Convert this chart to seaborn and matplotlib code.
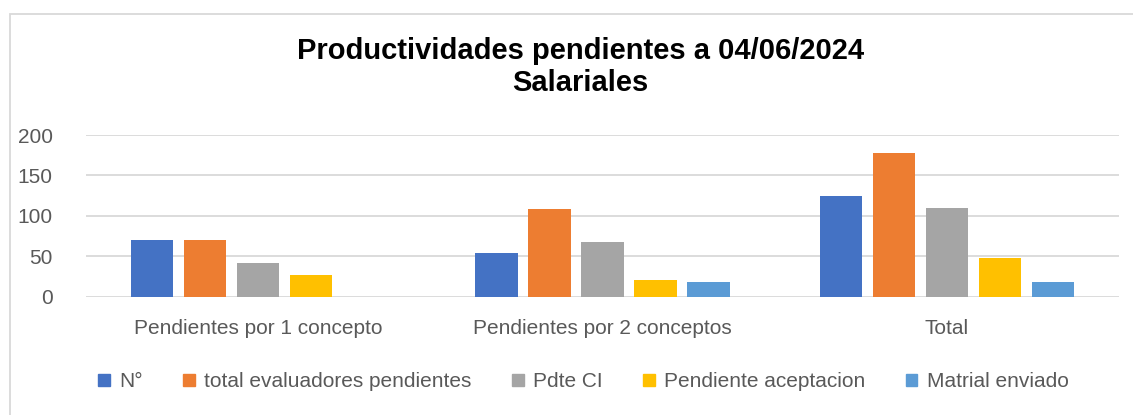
import matplotlib
matplotlib.use("Agg")
import matplotlib.pyplot as plt
import matplotlib.patches as mpatches
import pandas as pd
import seaborn as sns

# -----------------------------
# Data
# -----------------------------
categories = ["Pendientes por 1 concepto", "Pendientes por 2 conceptos", "Total"]
series = ["N°", "total evaluadores pendientes", "Pdte CI",
          "Pendiente aceptacion", "Matrial enviado"]
valores_n = [70, 54, 124]
valores_total_eval = [70, 108, 178]
valores_pdte_ci = [42, 68, 110]
valores_pend_acept = [27, 21, 48]
valores_matrial = [0, 18, 18]
colores = ["#4472C4", "#ED7D31", "#A5A5A5", "#FFC000", "#5B9BD5"]

rows = []
for s, vals in zip(series, [valores_n, valores_total_eval, valores_pdte_ci,
                            valores_pend_acept, valores_matrial]):
    for c, v in zip(categories, vals):
        rows.append({"categoria": c, "serie": s, "valor": v})
df = pd.DataFrame(rows)

# -----------------------------
# Plot
# -----------------------------
sns.set_style("white")
plt.rcParams["font.family"] = ["Liberation Sans", "DejaVu Sans"]

fig = plt.figure(figsize=(11.33, 4.15), dpi=100)
ax = fig.add_axes([86 / 1133, 118.3 / 415, 1033 / 1133, 161.7 / 415])

sns.barplot(data=df, x="categoria", y="valor", hue="serie",
            order=categories, hue_order=series, palette=colores,
            saturation=1, width=0.77, gap=0.2, linewidth=0, ax=ax,
            legend=False)

ax.set_ylim(0, 200)
ax.set_yticks([0, 50, 100, 150, 200])
ax.yaxis.grid(True, color="#D9D9D9", linewidth=1.3)
ax.set_axisbelow(True)
for side in ["top", "right", "left", "bottom"]:
    ax.spines[side].set_visible(False)
ax.set_xlabel("")
ax.set_ylabel("")
ax.tick_params(axis="both", length=0, labelsize=15, colors="#595959")
ax.tick_params(axis="x", pad=16)
ax.tick_params(axis="y", pad=24)

fig.text(0.512, 0.838, "Productividades pendientes a 04/06/2024\nSalariales",
         ha="center", va="center", fontsize=21, fontweight="bold",
         linespacing=1.2, color="black")

handles = [mpatches.Patch(color=c, label=s) for c, s in zip(colores, series)]
fig.legend(handles=handles, loc="center", bbox_to_anchor=(0.515, 0.08),
           ncol=5, frameon=False, fontsize=15, labelcolor="#595959",
           handlelength=0.55, handleheight=0.55, handletextpad=0.45,
           columnspacing=1.95)

# chart border
fig.patches.append(mpatches.Rectangle((10 / 1133, -0.1), 1.2, 1 - 14 / 415 + 0.1,
                                      transform=fig.transFigure, fill=False,
                                      edgecolor="#D9D9D9", linewidth=1.3))

fig.savefig("out.png", dpi=100)
